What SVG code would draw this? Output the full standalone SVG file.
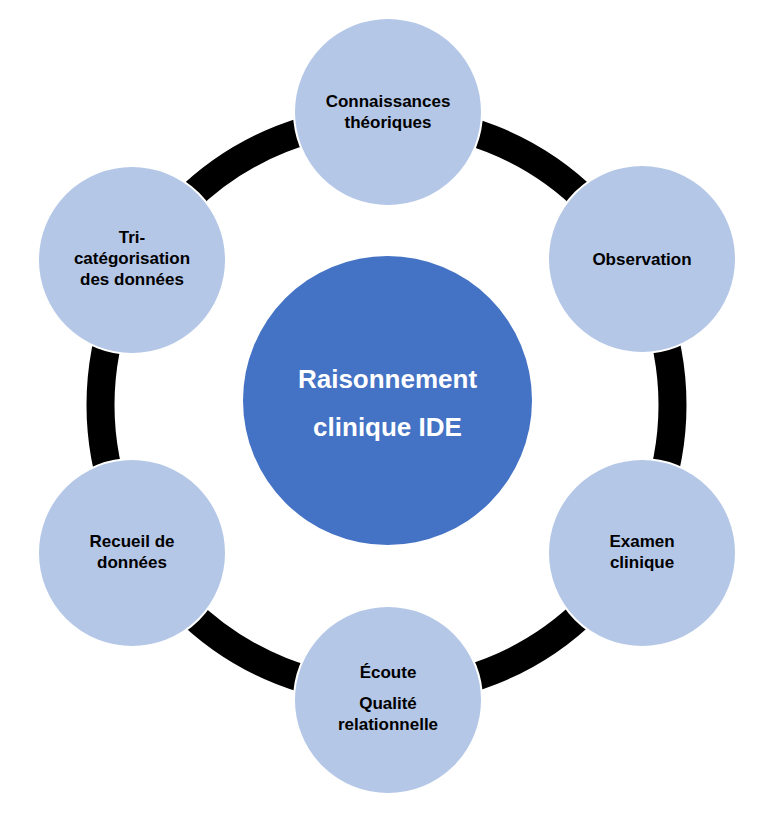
<svg xmlns="http://www.w3.org/2000/svg" width="773" height="818" viewBox="0 0 773 818">
<style>
.sat{fill:#B4C7E7;stroke:#FFFFFF;stroke-width:2}
.t{font-family:"Liberation Sans",Arial,sans-serif;font-weight:bold;font-size:17px;fill:#000;text-anchor:middle}
.c{font-family:"Liberation Sans",Arial,sans-serif;font-weight:bold;font-size:26px;fill:#FFFFFF;text-anchor:middle}
</style>
<rect width="773" height="818" fill="#FFFFFF"/>
<g id="connectors">
<circle cx="386.5" cy="405" r="286" fill="none" stroke="#000000" stroke-width="28"/>
</g>
<g id="center">
<circle cx="387.5" cy="400.5" r="144.5" fill="#4472C4"/>
<text class="c" x="387.5" y="388">Raisonnement</text>
<text class="c" x="387.5" y="436">clinique IDE</text>
</g>
<g id="connaissances">
<circle class="sat" cx="388" cy="112" r="94"/>
<text class="t" x="388" y="107">Connaissances</text>
<text class="t" x="388" y="128">théoriques</text>
</g>
<g id="observation">
<circle class="sat" cx="642" cy="259" r="94"/>
<text class="t" x="642" y="265">Observation</text>
</g>
<g id="examen">
<circle class="sat" cx="642" cy="553" r="94"/>
<text class="t" x="642" y="547">Examen</text>
<text class="t" x="642" y="568">clinique</text>
</g>
<g id="ecoute">
<circle class="sat" cx="388" cy="700" r="94"/>
<text class="t" x="388" y="678">Écoute</text>
<text class="t" x="388" y="709">Qualité</text>
<text class="t" x="388" y="730">relationnelle</text>
</g>
<g id="recueil">
<circle class="sat" cx="132" cy="553" r="94"/>
<text class="t" x="132" y="547">Recueil de</text>
<text class="t" x="132" y="568">données</text>
</g>
<g id="tri">
<circle class="sat" cx="132" cy="260" r="94"/>
<text class="t" x="132" y="243">Tri-</text>
<text class="t" x="132" y="264">catégorisation</text>
<text class="t" x="132" y="285">des données</text>
</g>
</svg>
